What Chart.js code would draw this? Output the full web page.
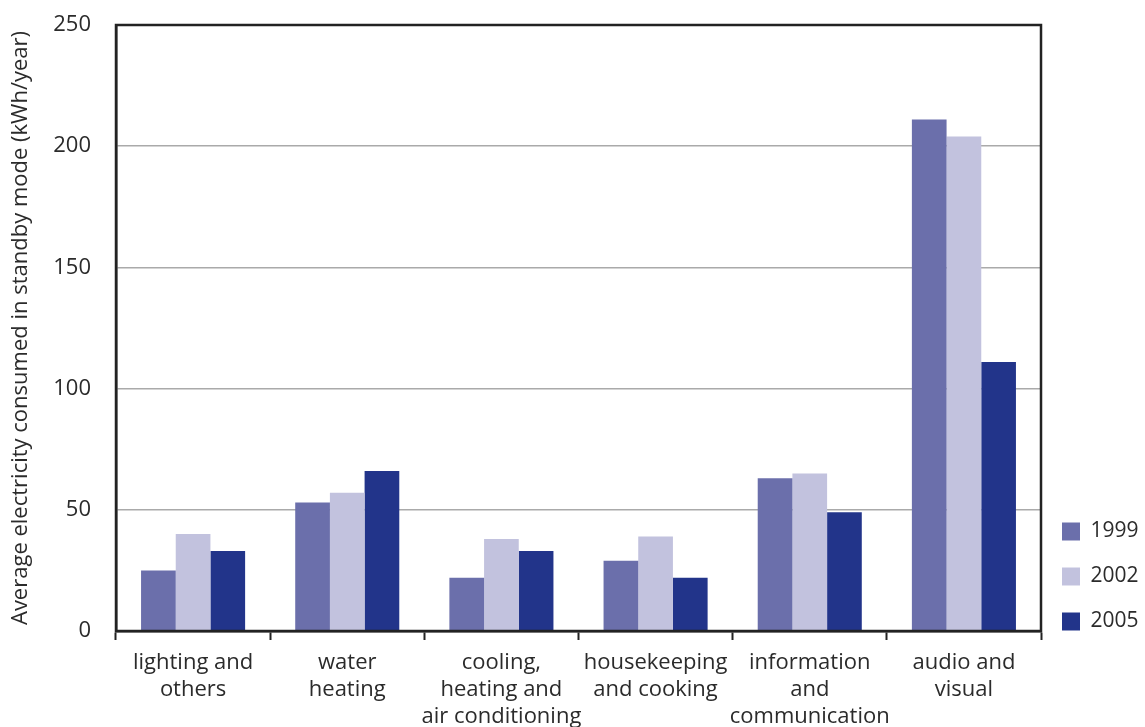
<!DOCTYPE html>
<html>
<head>
<meta charset="utf-8">
<script src="https://cdn.jsdelivr.net/npm/chart.js@4/dist/chart.umd.min.js"></script>
<style>
  html, body { margin: 0; padding: 0; background: #fff; }
  #wrap { width: 1145px; height: 727px; }
</style>
</head>
<body>
<div id="wrap"><canvas id="grafico"></canvas></div>
<script>
// dados
const categorias = [
  ["lighting and", "others"],
  ["water", "heating"],
  ["cooling,", "heating and", "air conditioning"],
  ["housekeeping", "and cooking"],
  ["information", "and", "communication"],
  ["audio and", "visual"]
];
const anos = ["1999", "2002", "2005"];
const valores1999 = [25, 53, 22, 29, 63, 211];
const valores2002 = [40, 57, 38, 39, 65, 204];
const valores2005 = [33, 66, 33, 22, 49, 111];
const ticksY = [0, 50, 100, 150, 200, 250];

const cores = ["#6b6fab", "#c2c2de", "#22348a"];
const fonte = "'Open Sans', 'DejaVu Sans', sans-serif";
const corTexto = "#2b2b2b";

// moldura da área do gráfico + legenda encostada embaixo
const moldura = {
  id: "moldura",
  afterLayout(chart) {
    if (chart.legend) {
      chart.legend.bottom = chart.chartArea.bottom + 25;
      chart.legend.left -= 3;
    }
  },
  afterDatasetsDraw(chart) {
    const a = chart.chartArea;
    const ctx = chart.ctx;
    ctx.save();
    ctx.strokeStyle = "#222";
    ctx.lineWidth = 2.5;
    ctx.strokeRect(a.left, a.top, a.right - a.left, a.bottom - a.top);
    ctx.restore();
  }
};

new Chart(document.getElementById("grafico"), {
  type: "bar",
  data: {
    labels: categorias,
    datasets: [
      { label: anos[0], data: valores1999, backgroundColor: cores[0] },
      { label: anos[1], data: valores2002, backgroundColor: cores[1] },
      { label: anos[2], data: valores2005, backgroundColor: cores[2] }
    ]
  },
  options: {
    responsive: true,
    maintainAspectRatio: false,
    animation: false,
    datasets: { bar: { categoryPercentage: 0.675, barPercentage: 1.0 } },
    layout: { padding: { top: 25, left: 8, right: 0, bottom: 0 } },
    plugins: {
      legend: {
        position: "right",
        align: "end",
        fullSize: false,
        maxWidth: 104,
        labels: {
          boxWidth: 18,
          boxHeight: 18,
          padding: 24,
          color: corTexto,
          font: { family: fonte, size: 21 }
        }
      },
      tooltip: { enabled: false }
    },
    scales: {
      x: {
        offset: true,
        afterFit(axis) { axis.height = 96; },
        grid: {
          display: true,
          offset: true,
          drawOnChartArea: false,
          tickLength: 9,
          tickWidth: 2,
          tickColor: "#222"
        },
        border: { color: "#222", width: 2.5 },
        ticks: {
          color: corTexto,
          font: { family: fonte, size: 22, lineHeight: 1.23 },
          padding: 9,
          maxRotation: 0,
          autoSkip: false
        }
      },
      y: {
        min: 0,
        max: 250,
        afterBuildTicks(axis) { axis.ticks = ticksY.map(v => ({ value: v })); },
        afterFit(axis) {
          axis.width = 108;
          axis.paddingTop = 0;
          axis.paddingBottom = 0;
        },
        grid: { color: "#aaa", lineWidth: 1.5, drawTicks: false },
        border: { color: "#222", width: 2.5 },
        ticks: {
          color: corTexto,
          font: { family: fonte, size: 22 },
          padding: 25
        },
        title: {
          display: true,
          text: "Average electricity consumed in standby mode (kWh/year)",
          color: corTexto,
          font: { family: fonte, size: 22 },
          padding: { top: 0, bottom: 4 }
        }
      }
    }
  },
  plugins: [moldura]
});
</script>
</body>
</html>
